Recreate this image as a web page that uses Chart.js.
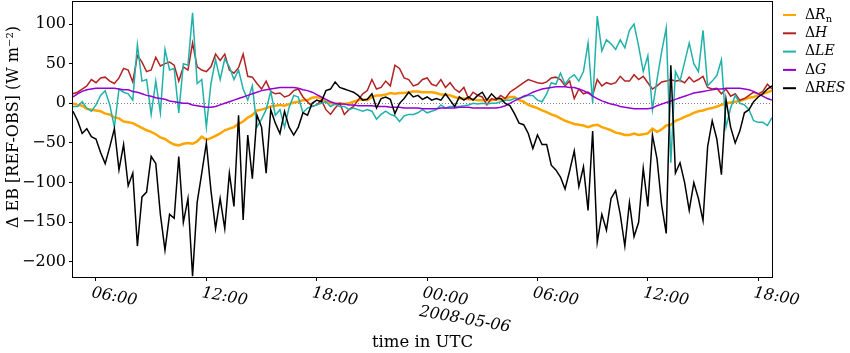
<!DOCTYPE html>
<html>
<head>
<meta charset="utf-8">
<script src="https://cdn.jsdelivr.net/npm/chart.js@4.4.1/dist/chart.umd.min.js"></script>
<style>
  html, body { margin: 0; padding: 0; background: #fff; }
  #wrap { position: relative; width: 850px; height: 353px; }
</style>
</head>
<body>
<div id="wrap"><canvas id="eb-chart"></canvas></div>
<script>
// time axis: 15 min steps from 2008-05-05 04:45 to 2008-05-06 18:45 (UTC)
const startMin = 4 * 60 + 45;
const endMin = 42 * 60 + 45;
const times = [];
for (let m = startMin; m <= endMin; m += 15) {
  const day = m >= 1440 ? '2008-05-06' : '2008-05-05';
  const hh = String(Math.floor(m / 60) % 24).padStart(2, '0');
  const mm = String(m % 60).padStart(2, '0');
  times.push(day + ' ' + hh + ':' + mm);
}

const yTicks = [-200, -150, -100, -50, 0, 50, 100];

// differences REF - OBS (W m-2)
const dRn = [
  0, -2, -3, -7, -8, -9, -10, -13, -14, -18, -19, -23, -24, -25, -28, -31, -34, -36, -39, -43, -45, -49, -52, -53, -51,
  -50, -51, -48, -42, -46, -44, -41, -38, -34, -32, -30, -26, -23, -18, -15, -9, -8, -6, -4, -3, -2, -3, -1, 1, 2, 4,
  4, 7, 8, 6, 2, 0, -1, 0, -1, 0, 2, 4, 5, 4, 8, 10, 10, 11, 13, 12, 13, 13, 14, 15, 15, 14,
  14, 14, 13, 11, 11, 10, 8, 6, 6, 5, 5, 4, 4, 4, 4, 5, 5, 6, 8, 8, 4, 2, -2, -4, -6, -9,
  -11, -14, -16, -19, -22, -24, -26, -27, -28, -30, -28, -27, -30, -32, -34, -37, -38, -40, -40, -38, -40, -39, -38, -32, -36, -33,
  -28, -27, -22, -20, -17, -15, -12, -10, -9, -7, -6, -4, -2, 0, 1, 2, 3, 5, 7, 8, 10, 12, 14, 16
];
const dH = [
  12, 14, 18, 22, 30, 26, 32, 33, 28, 25, 32, 44, 42, 27, 60, 52, 40, 42, 58, 47, 50, 52, 48, 28, 46,
  42, 76, 46, 42, 40, 46, 62, 54, 62, 42, 38, 45, 62, 34, 33, 25, 18, 28, 15, 12, 13, 8, 10, 16, 18, 8,
  2, -4, -2, 4, -8, -14, -6, 0, -14, -8, -4, 4, 12, 16, 30, 18, 20, 28, 22, 48, 44, 32, 30, 22, 24, 30,
  32, 24, 22, 30, 20, 26, 18, 14, 20, 6, 14, 10, 8, -2, 6, 4, 10, 6, 14, 18, 22, 26, 30, 28, 26, 25,
  27, 32, 33, 30, 22, 28, 6, 18, 12, 14, 10, 30, 22, 26, 24, 26, 34, 28, 28, 36, 30, 34, 26, 18, 22, 27,
  28, 30, 28, 29, 26, 33, 27, 30, 34, 20, 18, 19, 12, 18, 9, 12, 4, 6, 10, 14, 12, 15, 24, 18
];
const dLE = [
  -4, -4, 2, -6, -10, -2, 10, 16, -2, -30, 18, 14, 12, 4, 74, 28, 30, -14, 28, -12, 68, 42, 44, -12, 50,
  48, 114, 25, 30, -30, 25, 55, 30, 56, 46, 30, 42, 18, 4, 22, -30, -20, -8, 15, -15, -8, -30, -5, 10, 8, -12,
  -6, -4, -2, 0, 2, -4, -1, -4, -4, -8, -6, -8, -10, -8, -10, -20, -14, -10, -14, -16, -23, -16, -14, -14, -12, -8,
  -12, -10, -8, -2, -6, -4, -4, -4, -3, -2, 0, -1, 0, -1, 0, 0, 2, 4, 4, 6, 6, 8, 10, 10, 4, 2,
  12, 26, 24, 38, 24, 32, 36, 28, 40, 76, 0, 110, 66, 80, 75, 68, 80, 70, 92, 100, 72, 40, 60, -8, 30, 65,
  95, -75, 40, 28, 52, 76, 50, 40, 92, 22, 28, 35, 55, -30, -6, 10, 0, -2, -8, -22, -24, -24, -28, -18
];
const dG = [
  8, 12, 15, 17, 18, 19, 19, 19, 19, 19, 18, 17, 17, 15, 14, 12, 10, 9, 7, 6, 5, 3, 2, 1, 0,
  0, -2, -3, -4, -5, -5, -4, -2, 0, 2, 4, 6, 8, 10, 12, 14, 16, 17, 18, 19, 20, 20, 20, 20, 19, 17,
  16, 14, 11, 8, 5, 2, 0, -1, -1, -2, -2, -3, -3, -3, -3, -4, -4, -4, -5, -5, -5, -6, -6, -6, -6, -7,
  -7, -7, -7, -6, -6, -6, -6, -5, -5, -5, -6, -6, -6, -6, -6, -6, -5, -3, 0, 3, 6, 9, 11, 14, 16, 18,
  19, 20, 21, 21, 21, 20, 20, 18, 16, 13, 9, 6, 3, 1, -1, -2, -4, -5, -6, -7, -7, -7, -7, -6, -3, -1,
  1, 3, 5, 7, 9, 11, 13, 14, 15, 16, 17, 18, 18, 19, 19, 19, 19, 18, 17, 15, 12, 9, 6, 4
];
const dRES = [
  -10, -22, -38, -32, -42, -45, -62, -76, -55, -32, -84, -52, -104, -88, -180, -118, -112, -67, -76, -140, -185, -140, -145, -67, -150,
  -120, -218, -125, -88, -50, -110, -158, -120, -158, -88, -130, -15, -147, -40, -95, -15, -30, -88, -8, -25, -38, -10, -30, -40, -30, -12,
  -15, 0, 4, 2, 16, 18, 27, 20, 18, 16, 14, 10, 4, 5, 12, -6, 6, 8, 5, -13, 0, 6, 14, 8, 10, 5,
  8, 4, 6, 4, 12, 4, -4, 8, 4, 8, 4, 10, 14, 4, 12, 6, 6, 0, -3, -13, -25, -27, -38, -57, -40, -52,
  -52, -78, -84, -93, -108, -85, -60, -105, -80, -135, -35, -175, -140, -160, -120, -110, -140, -180, -125, -168, -150, -82, -130, -40, -70, -128,
  -164, 48, -88, -75, -100, -135, -100, -120, -148, -55, -22, -45, -90, 5, -30, -50, -35, -12, -8, 2, 8, 12, 18, 22
];

const seriesNames = ['ΔRn', 'ΔH', 'ΔLE', 'ΔG', 'ΔRES'];
const seriesColors = ['#ffa500', '#b22222', '#20b2aa', '#9400d3', '#000000'];
const seriesWidths = [2.5, 1.5, 1.5, 1.5, 1.5];
const seriesData = [dRn, dH, dLE, dG, dRES];

const serif = '"DejaVu Serif", "Liberation Serif", serif';

// dotted zero line, frame, rotated time labels, titles and legend
const decorPlugin = {
  id: 'decor',
  beforeDatasetsDraw(chart) {
    const ctx = chart.ctx, a = chart.chartArea;
    const y0 = Math.round(chart.scales.y.getPixelForValue(0)) + 0.5;
    ctx.save();
    ctx.strokeStyle = '#808080';
    ctx.lineWidth = 1;
    ctx.setLineDash([1, 2]);
    ctx.beginPath();
    ctx.moveTo(a.left, y0);
    ctx.lineTo(a.right, y0);
    ctx.stroke();
    ctx.restore();
  },
  afterDraw(chart) {
    const ctx = chart.ctx, a = chart.chartArea, x = chart.scales.x;
    ctx.save();
    // frame
    ctx.strokeStyle = '#000';
    ctx.lineWidth = 1;
    ctx.strokeRect(Math.round(a.left) - 0.5, Math.round(a.top) + 0.5,
                   Math.round(a.right - a.left) + 1, Math.round(a.bottom - a.top));

    // x tick labels, turned 10 degrees clockwise
    ctx.fillStyle = '#000';
    ctx.font = 'italic 16px ' + serif;
    ctx.textAlign = 'left';
    ctx.textBaseline = 'top';
    x.ticks.forEach(t => {
      const px = x.getPixelForValue(t.value);
      const full = times[t.value];
      const hm = full.slice(11);
      ctx.save();
      ctx.translate(px - 3, a.bottom + 8);
      ctx.rotate(10 * Math.PI / 180);
      ctx.fillText(hm, 0, 0);
      if (hm === '00:00') ctx.fillText(full.slice(0, 10), 0, 19);
      ctx.restore();
    });

    // axis titles
    ctx.font = '16.5px ' + serif;
    ctx.textAlign = 'center';
    ctx.textBaseline = 'middle';
    ctx.fillText('time in UTC', (a.left + a.right) / 2, 343);
    ctx.save();
    ctx.translate(14, 127);
    ctx.rotate(-Math.PI / 2);
    ctx.font = '16px ' + serif;
    ctx.fillText('Δ EB [REF-OBS] (W m⁻²)', 0, 0);
    ctx.restore();

    // legend
    ctx.textAlign = 'left';
    ctx.textBaseline = 'middle';
    seriesNames.forEach((name, i) => {
      const ly = 15 + i * 18.3;
      ctx.strokeStyle = seriesColors[i];
      ctx.lineWidth = 2;
      ctx.beginPath();
      ctx.moveTo(783, ly);
      ctx.lineTo(796, ly);
      ctx.stroke();
      let tx = 805;
      ctx.font = '14px ' + serif;
      ctx.fillText(name[0], tx, ly);
      tx += ctx.measureText(name[0]).width;
      let body = name.slice(1), sub = '';
      if (body === 'Rn') { body = 'R'; sub = 'n'; }
      ctx.font = 'italic 14px ' + serif;
      ctx.fillText(body, tx, ly);
      tx += ctx.measureText(body).width;
      if (sub) {
        ctx.font = '10px ' + serif;
        ctx.fillText(sub, tx, ly + 4);
      }
    });
    ctx.restore();
  }
};

const ctx = document.getElementById('eb-chart');

new Chart(ctx, {
  type: 'line',
  data: {
    labels: times,
    datasets: seriesNames.map((name, i) => ({
      label: name,
      data: seriesData[i],
      borderColor: seriesColors[i],
      backgroundColor: seriesColors[i],
      borderWidth: seriesWidths[i],
      pointRadius: 0,
      tension: 0,
      fill: false,
      order: seriesNames.length - i
    }))
  },
  options: {
    responsive: true,
    maintainAspectRatio: false,
    animation: false,
    layout: { padding: { top: 1, right: 78, left: 0, bottom: 0 } },
    plugins: {
      legend: { display: false },
      tooltip: { enabled: false }
    },
    scales: {
      x: {
        type: 'category',
        offset: false,
        afterBuildTicks: scale => {
          scale.ticks = scale.ticks.filter(t => {
            const s = times[t.value];
            return s.slice(14) === '00' && Number(s.slice(11, 13)) % 6 === 0;
          });
        },
        afterFit: scale => {
          scale.height = 76;
          scale.paddingLeft = 0;
          scale.paddingRight = 0;
        },
        ticks: { display: false, autoSkip: false },
        grid: { drawOnChartArea: false, drawTicks: true, tickLength: 4, color: '#000' },
        border: { display: false }
      },
      y: {
        min: -219,
        max: 129,
        afterBuildTicks: scale => { scale.ticks = yTicks.map(v => ({ value: v })); },
        afterFit: scale => {
          scale.width = 73;
          scale.paddingTop = 0;
          scale.paddingBottom = 0;
        },
        ticks: {
          color: '#000',
          padding: 3,
          font: { family: serif, size: 16 },
          callback: v => String(v).replace('-', '−')
        },
        grid: { drawOnChartArea: false, drawTicks: true, tickLength: 4, color: '#000' },
        border: { display: false }
      }
    }
  },
  plugins: [decorPlugin]
});
</script>
</body>
</html>
